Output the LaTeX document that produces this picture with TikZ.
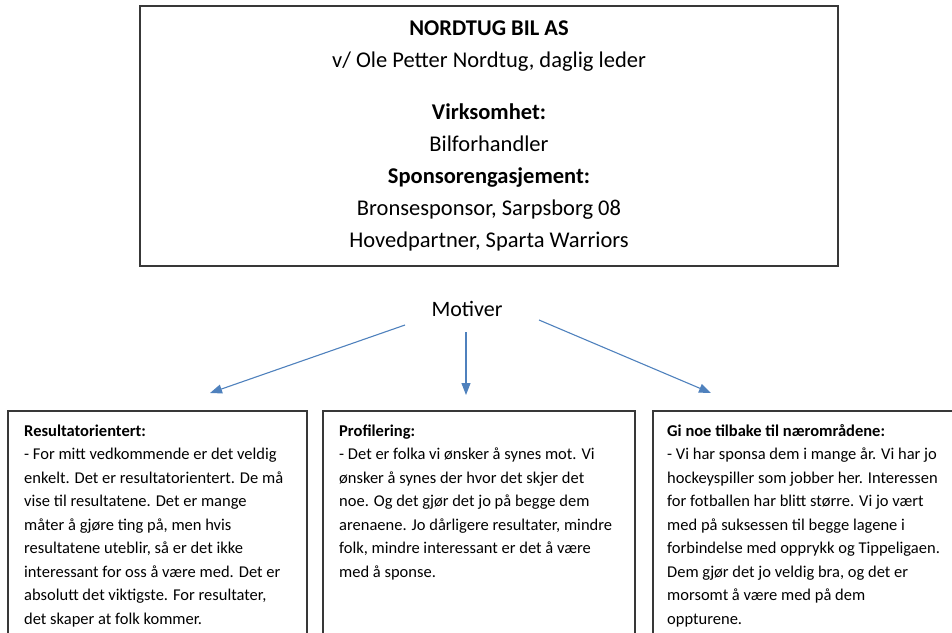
\documentclass[tikz,border=0pt]{standalone}
\usepackage{fontspec}
\setmainfont{Carlito}
\usetikzlibrary{arrows.meta}
\definecolor{arrowblue}{RGB}{79,129,189}
\newcommand{\firststrut}{\rule{0pt}{14pt}}
\tikzset{
  box/.style={draw=black!78, line width=1.3pt},
  topline/.style={anchor=base, inner sep=0pt, font=\fontsize{22.5}{24}\selectfont},
  bodytext/.style={anchor=north west, inner sep=0pt, align=left, font=\fontsize{16.5}{23.5}\selectfont},
  conn/.style={draw=arrowblue, line width=1.1pt, -{Triangle[length=12pt,width=9pt]}}
}
\begin{document}
\begin{tikzpicture}[x=1pt,y=-1pt]
\useasboundingbox (0,0) rectangle (952,632);
\begin{scope}
\clip (0,0) rectangle (952,632);
% top box
\draw[box] (140,6) rectangle (838,266);
\node[topline] (t1) at (489,35) {\textbf{NORDTUG BIL AS}};
\node[topline] (t2) at (489,67) {v/ Ole Petter Nordtug, daglig leder};
\node[topline] (t3) at (489,119) {\textbf{Virksomhet:}};
\node[topline] (t4) at (489,151) {Bilforhandler};
\node[topline] (t5) at (489,183) {\textbf{Sponsorengasjement:}};
\node[topline] (t6) at (489,215) {Bronsesponsor, Sarpsborg 08};
\node[topline] (t7) at (489,247) {Hovedpartner, Sparta Warriors};
% motiver
\node[topline, font=\fontsize{22}{24}\selectfont] (mot) at (467,316) {Motiver};
\coordinate (aL1) at (405,325);
\coordinate (aL2) at (210,393);
\coordinate (aC1) at (466,332);
\coordinate (aC2) at (466,395);
\coordinate (aR1) at (539,320);
\coordinate (aR2) at (711,393);
\draw[conn] (aL1) -- (aL2);
\draw[conn] (aC1) -- (aC2);
\draw[conn] (aR1) -- (aR2);
% bottom boxes
\draw[box] (8,411) rectangle (307,660);
\draw[box] (323,411) rectangle (635,660);
\draw[box] (653,411) rectangle (980,660);
\node[bodytext] (b1) at (24,422) {\firststrut\textbf{Resultatorientert:}\\
- For mitt vedkommende er det veldig\\
enkelt. Det er resultatorientert. De må\\
vise til resultatene. Det er mange\\
måter å gjøre ting på, men hvis\\
resultatene uteblir, så er det ikke\\
interessant for oss å være med. Det er\\
absolutt det viktigste. For resultater,\\
det skaper at folk kommer.};
\node[bodytext] (b2) at (339,422) {\firststrut\textbf{Profilering:}\\
- Det er folka vi ønsker å synes mot. Vi\\
ønsker å synes der hvor det skjer det\\
noe. Og det gjør det jo på begge dem\\
arenaene. Jo dårligere resultater, mindre\\
folk, mindre interessant er det å være\\
med å sponse.};
\node[bodytext] (b3) at (667,422) {\firststrut\textbf{Gi noe tilbake til nærområdene:}\\
- Vi har sponsa dem i mange år. Vi har jo\\
hockeyspiller som jobber her. Interessen\\
for fotballen har blitt større. Vi jo vært\\
med på suksessen til begge lagene i\\
forbindelse med opprykk og Tippeligaen.\\
Dem gjør det jo veldig bra, og det er\\
morsomt å være med på dem\\
oppturene.};
\end{scope}
\end{tikzpicture}
\end{document}
